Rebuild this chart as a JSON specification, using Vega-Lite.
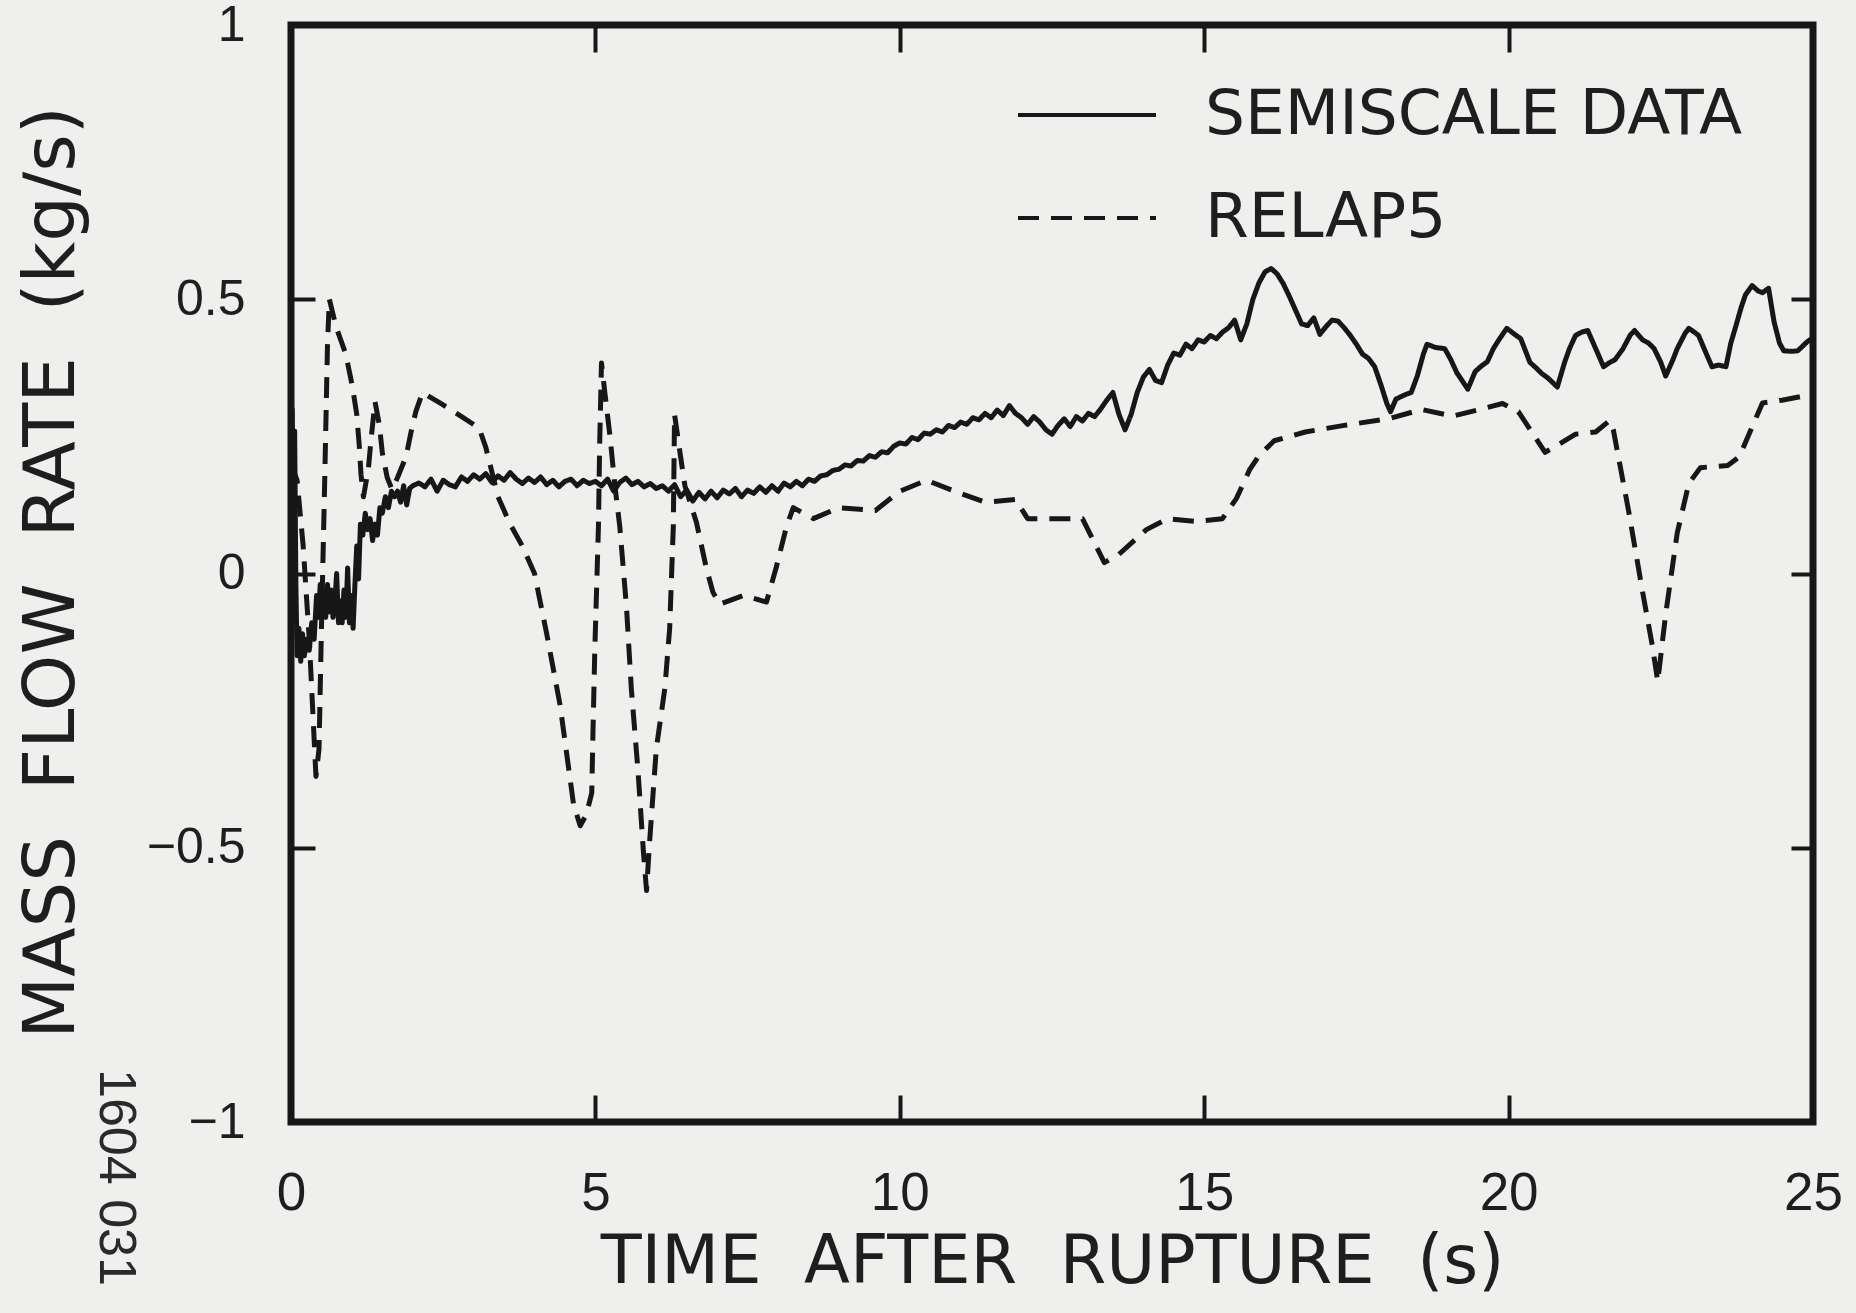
{
  "$schema": "https://vega.github.io/schema/vega-lite/v6.json",
  "width": 1522,
  "height": 1097,
  "autosize": {"type": "none"},
  "padding": {"left": 291, "top": 25, "right": 43, "bottom": 191},
  "background": "#efefed",
  "title": {
    "text": "1604 031",
    "orient": "left",
    "anchor": "start",
    "angle": 90,
    "font": "Liberation Sans",
    "fontSize": 52,
    "fontWeight": "normal",
    "color": "#2a2a2a",
    "offset": -178,
    "dx": -226
  },
  "datasets": {
    "flow": [
      {"series": "SEMISCALE DATA", "t": 0.00, "v": 0.02},
      {"series": "SEMISCALE DATA", "t": 0.02, "v": 0.30},
      {"series": "SEMISCALE DATA", "t": 0.04, "v": 0.12},
      {"series": "SEMISCALE DATA", "t": 0.06, "v": 0.26},
      {"series": "SEMISCALE DATA", "t": 0.08, "v": -0.02},
      {"series": "SEMISCALE DATA", "t": 0.10, "v": -0.15},
      {"series": "SEMISCALE DATA", "t": 0.13, "v": -0.10},
      {"series": "SEMISCALE DATA", "t": 0.16, "v": -0.16},
      {"series": "SEMISCALE DATA", "t": 0.19, "v": -0.11},
      {"series": "SEMISCALE DATA", "t": 0.22, "v": -0.15},
      {"series": "SEMISCALE DATA", "t": 0.26, "v": -0.12},
      {"series": "SEMISCALE DATA", "t": 0.30, "v": -0.14},
      {"series": "SEMISCALE DATA", "t": 0.34, "v": -0.09},
      {"series": "SEMISCALE DATA", "t": 0.38, "v": -0.12},
      {"series": "SEMISCALE DATA", "t": 0.42, "v": -0.04},
      {"series": "SEMISCALE DATA", "t": 0.45, "v": -0.08},
      {"series": "SEMISCALE DATA", "t": 0.48, "v": -0.02},
      {"series": "SEMISCALE DATA", "t": 0.51, "v": -0.07},
      {"series": "SEMISCALE DATA", "t": 0.54, "v": -0.03},
      {"series": "SEMISCALE DATA", "t": 0.57, "v": -0.08},
      {"series": "SEMISCALE DATA", "t": 0.60, "v": -0.02},
      {"series": "SEMISCALE DATA", "t": 0.63, "v": -0.07},
      {"series": "SEMISCALE DATA", "t": 0.66, "v": -0.03},
      {"series": "SEMISCALE DATA", "t": 0.69, "v": -0.08},
      {"series": "SEMISCALE DATA", "t": 0.72, "v": -0.05},
      {"series": "SEMISCALE DATA", "t": 0.75, "v": 0.00},
      {"series": "SEMISCALE DATA", "t": 0.78, "v": -0.09},
      {"series": "SEMISCALE DATA", "t": 0.81, "v": -0.05},
      {"series": "SEMISCALE DATA", "t": 0.84, "v": -0.09},
      {"series": "SEMISCALE DATA", "t": 0.87, "v": -0.03},
      {"series": "SEMISCALE DATA", "t": 0.90, "v": -0.08},
      {"series": "SEMISCALE DATA", "t": 0.93, "v": 0.01},
      {"series": "SEMISCALE DATA", "t": 0.96, "v": -0.09},
      {"series": "SEMISCALE DATA", "t": 0.99, "v": -0.04},
      {"series": "SEMISCALE DATA", "t": 1.02, "v": -0.10},
      {"series": "SEMISCALE DATA", "t": 1.05, "v": -0.02},
      {"series": "SEMISCALE DATA", "t": 1.08, "v": 0.05},
      {"series": "SEMISCALE DATA", "t": 1.11, "v": -0.01},
      {"series": "SEMISCALE DATA", "t": 1.14, "v": 0.09},
      {"series": "SEMISCALE DATA", "t": 1.18, "v": 0.07},
      {"series": "SEMISCALE DATA", "t": 1.22, "v": 0.11},
      {"series": "SEMISCALE DATA", "t": 1.26, "v": 0.08},
      {"series": "SEMISCALE DATA", "t": 1.30, "v": 0.10},
      {"series": "SEMISCALE DATA", "t": 1.34, "v": 0.06},
      {"series": "SEMISCALE DATA", "t": 1.38, "v": 0.09},
      {"series": "SEMISCALE DATA", "t": 1.42, "v": 0.07},
      {"series": "SEMISCALE DATA", "t": 1.46, "v": 0.12},
      {"series": "SEMISCALE DATA", "t": 1.50, "v": 0.11},
      {"series": "SEMISCALE DATA", "t": 1.55, "v": 0.14},
      {"series": "SEMISCALE DATA", "t": 1.60, "v": 0.12},
      {"series": "SEMISCALE DATA", "t": 1.65, "v": 0.15},
      {"series": "SEMISCALE DATA", "t": 1.70, "v": 0.14},
      {"series": "SEMISCALE DATA", "t": 1.75, "v": 0.15},
      {"series": "SEMISCALE DATA", "t": 1.80, "v": 0.13},
      {"series": "SEMISCALE DATA", "t": 1.85, "v": 0.16},
      {"series": "SEMISCALE DATA", "t": 1.90, "v": 0.125},
      {"series": "SEMISCALE DATA", "t": 1.95, "v": 0.155},
      {"series": "SEMISCALE DATA", "t": 2.00, "v": 0.16},
      {"series": "SEMISCALE DATA", "t": 2.1, "v": 0.165},
      {"series": "SEMISCALE DATA", "t": 2.2, "v": 0.158},
      {"series": "SEMISCALE DATA", "t": 2.3, "v": 0.172},
      {"series": "SEMISCALE DATA", "t": 2.4, "v": 0.150},
      {"series": "SEMISCALE DATA", "t": 2.5, "v": 0.170},
      {"series": "SEMISCALE DATA", "t": 2.6, "v": 0.162},
      {"series": "SEMISCALE DATA", "t": 2.7, "v": 0.158},
      {"series": "SEMISCALE DATA", "t": 2.8, "v": 0.176},
      {"series": "SEMISCALE DATA", "t": 2.9, "v": 0.168},
      {"series": "SEMISCALE DATA", "t": 3.0, "v": 0.180},
      {"series": "SEMISCALE DATA", "t": 3.1, "v": 0.172},
      {"series": "SEMISCALE DATA", "t": 3.2, "v": 0.182},
      {"series": "SEMISCALE DATA", "t": 3.3, "v": 0.166},
      {"series": "SEMISCALE DATA", "t": 3.4, "v": 0.178},
      {"series": "SEMISCALE DATA", "t": 3.5, "v": 0.170},
      {"series": "SEMISCALE DATA", "t": 3.6, "v": 0.184},
      {"series": "SEMISCALE DATA", "t": 3.7, "v": 0.172},
      {"series": "SEMISCALE DATA", "t": 3.8, "v": 0.164},
      {"series": "SEMISCALE DATA", "t": 3.9, "v": 0.174},
      {"series": "SEMISCALE DATA", "t": 4.0, "v": 0.166},
      {"series": "SEMISCALE DATA", "t": 4.1, "v": 0.176},
      {"series": "SEMISCALE DATA", "t": 4.2, "v": 0.162},
      {"series": "SEMISCALE DATA", "t": 4.3, "v": 0.170},
      {"series": "SEMISCALE DATA", "t": 4.4, "v": 0.158},
      {"series": "SEMISCALE DATA", "t": 4.5, "v": 0.168},
      {"series": "SEMISCALE DATA", "t": 4.6, "v": 0.172},
      {"series": "SEMISCALE DATA", "t": 4.7, "v": 0.160},
      {"series": "SEMISCALE DATA", "t": 4.8, "v": 0.170},
      {"series": "SEMISCALE DATA", "t": 4.9, "v": 0.164},
      {"series": "SEMISCALE DATA", "t": 5.0, "v": 0.168},
      {"series": "SEMISCALE DATA", "t": 5.1, "v": 0.160},
      {"series": "SEMISCALE DATA", "t": 5.2, "v": 0.172},
      {"series": "SEMISCALE DATA", "t": 5.3, "v": 0.150},
      {"series": "SEMISCALE DATA", "t": 5.4, "v": 0.166},
      {"series": "SEMISCALE DATA", "t": 5.5, "v": 0.174},
      {"series": "SEMISCALE DATA", "t": 5.6, "v": 0.162},
      {"series": "SEMISCALE DATA", "t": 5.7, "v": 0.168},
      {"series": "SEMISCALE DATA", "t": 5.8, "v": 0.158},
      {"series": "SEMISCALE DATA", "t": 5.9, "v": 0.164},
      {"series": "SEMISCALE DATA", "t": 6.0, "v": 0.155},
      {"series": "SEMISCALE DATA", "t": 6.1, "v": 0.160},
      {"series": "SEMISCALE DATA", "t": 6.2, "v": 0.150},
      {"series": "SEMISCALE DATA", "t": 6.3, "v": 0.162},
      {"series": "SEMISCALE DATA", "t": 6.4, "v": 0.140},
      {"series": "SEMISCALE DATA", "t": 6.5, "v": 0.152},
      {"series": "SEMISCALE DATA", "t": 6.6, "v": 0.132},
      {"series": "SEMISCALE DATA", "t": 6.7, "v": 0.148},
      {"series": "SEMISCALE DATA", "t": 6.8, "v": 0.136},
      {"series": "SEMISCALE DATA", "t": 6.9, "v": 0.150},
      {"series": "SEMISCALE DATA", "t": 7.0, "v": 0.138},
      {"series": "SEMISCALE DATA", "t": 7.1, "v": 0.152},
      {"series": "SEMISCALE DATA", "t": 7.2, "v": 0.145},
      {"series": "SEMISCALE DATA", "t": 7.3, "v": 0.155},
      {"series": "SEMISCALE DATA", "t": 7.4, "v": 0.140},
      {"series": "SEMISCALE DATA", "t": 7.5, "v": 0.152},
      {"series": "SEMISCALE DATA", "t": 7.6, "v": 0.146},
      {"series": "SEMISCALE DATA", "t": 7.7, "v": 0.158},
      {"series": "SEMISCALE DATA", "t": 7.8, "v": 0.148},
      {"series": "SEMISCALE DATA", "t": 7.9, "v": 0.160},
      {"series": "SEMISCALE DATA", "t": 8.0, "v": 0.150},
      {"series": "SEMISCALE DATA", "t": 8.1, "v": 0.165},
      {"series": "SEMISCALE DATA", "t": 8.2, "v": 0.158},
      {"series": "SEMISCALE DATA", "t": 8.3, "v": 0.168},
      {"series": "SEMISCALE DATA", "t": 8.4, "v": 0.160},
      {"series": "SEMISCALE DATA", "t": 8.5, "v": 0.172},
      {"series": "SEMISCALE DATA", "t": 8.6, "v": 0.168},
      {"series": "SEMISCALE DATA", "t": 8.7, "v": 0.178},
      {"series": "SEMISCALE DATA", "t": 8.8, "v": 0.180},
      {"series": "SEMISCALE DATA", "t": 8.9, "v": 0.188},
      {"series": "SEMISCALE DATA", "t": 9.0, "v": 0.190},
      {"series": "SEMISCALE DATA", "t": 9.1, "v": 0.198},
      {"series": "SEMISCALE DATA", "t": 9.2, "v": 0.196},
      {"series": "SEMISCALE DATA", "t": 9.3, "v": 0.206},
      {"series": "SEMISCALE DATA", "t": 9.4, "v": 0.205},
      {"series": "SEMISCALE DATA", "t": 9.5, "v": 0.215},
      {"series": "SEMISCALE DATA", "t": 9.6, "v": 0.212},
      {"series": "SEMISCALE DATA", "t": 9.7, "v": 0.222},
      {"series": "SEMISCALE DATA", "t": 9.8, "v": 0.220},
      {"series": "SEMISCALE DATA", "t": 9.9, "v": 0.232},
      {"series": "SEMISCALE DATA", "t": 10.0, "v": 0.238},
      {"series": "SEMISCALE DATA", "t": 10.1, "v": 0.236},
      {"series": "SEMISCALE DATA", "t": 10.2, "v": 0.248},
      {"series": "SEMISCALE DATA", "t": 10.3, "v": 0.244},
      {"series": "SEMISCALE DATA", "t": 10.4, "v": 0.256},
      {"series": "SEMISCALE DATA", "t": 10.5, "v": 0.254},
      {"series": "SEMISCALE DATA", "t": 10.6, "v": 0.262},
      {"series": "SEMISCALE DATA", "t": 10.7, "v": 0.258},
      {"series": "SEMISCALE DATA", "t": 10.8, "v": 0.270},
      {"series": "SEMISCALE DATA", "t": 10.9, "v": 0.266},
      {"series": "SEMISCALE DATA", "t": 11.0, "v": 0.276},
      {"series": "SEMISCALE DATA", "t": 11.1, "v": 0.272},
      {"series": "SEMISCALE DATA", "t": 11.2, "v": 0.284},
      {"series": "SEMISCALE DATA", "t": 11.3, "v": 0.280},
      {"series": "SEMISCALE DATA", "t": 11.4, "v": 0.292},
      {"series": "SEMISCALE DATA", "t": 11.5, "v": 0.284},
      {"series": "SEMISCALE DATA", "t": 11.6, "v": 0.298},
      {"series": "SEMISCALE DATA", "t": 11.7, "v": 0.288},
      {"series": "SEMISCALE DATA", "t": 11.8, "v": 0.306},
      {"series": "SEMISCALE DATA", "t": 11.9, "v": 0.292},
      {"series": "SEMISCALE DATA", "t": 12.0, "v": 0.284},
      {"series": "SEMISCALE DATA", "t": 12.1, "v": 0.272},
      {"series": "SEMISCALE DATA", "t": 12.2, "v": 0.286},
      {"series": "SEMISCALE DATA", "t": 12.3, "v": 0.276},
      {"series": "SEMISCALE DATA", "t": 12.4, "v": 0.262},
      {"series": "SEMISCALE DATA", "t": 12.5, "v": 0.254},
      {"series": "SEMISCALE DATA", "t": 12.6, "v": 0.270},
      {"series": "SEMISCALE DATA", "t": 12.7, "v": 0.282},
      {"series": "SEMISCALE DATA", "t": 12.8, "v": 0.268},
      {"series": "SEMISCALE DATA", "t": 12.9, "v": 0.286},
      {"series": "SEMISCALE DATA", "t": 13.0, "v": 0.278},
      {"series": "SEMISCALE DATA", "t": 13.1, "v": 0.292},
      {"series": "SEMISCALE DATA", "t": 13.2, "v": 0.286},
      {"series": "SEMISCALE DATA", "t": 13.3, "v": 0.300},
      {"series": "SEMISCALE DATA", "t": 13.4, "v": 0.316},
      {"series": "SEMISCALE DATA", "t": 13.5, "v": 0.330},
      {"series": "SEMISCALE DATA", "t": 13.6, "v": 0.290},
      {"series": "SEMISCALE DATA", "t": 13.7, "v": 0.262},
      {"series": "SEMISCALE DATA", "t": 13.8, "v": 0.290},
      {"series": "SEMISCALE DATA", "t": 13.9, "v": 0.330},
      {"series": "SEMISCALE DATA", "t": 14.0, "v": 0.358},
      {"series": "SEMISCALE DATA", "t": 14.1, "v": 0.372},
      {"series": "SEMISCALE DATA", "t": 14.2, "v": 0.352},
      {"series": "SEMISCALE DATA", "t": 14.3, "v": 0.348},
      {"series": "SEMISCALE DATA", "t": 14.4, "v": 0.380},
      {"series": "SEMISCALE DATA", "t": 14.5, "v": 0.402},
      {"series": "SEMISCALE DATA", "t": 14.6, "v": 0.398},
      {"series": "SEMISCALE DATA", "t": 14.7, "v": 0.418},
      {"series": "SEMISCALE DATA", "t": 14.8, "v": 0.410},
      {"series": "SEMISCALE DATA", "t": 14.9, "v": 0.426},
      {"series": "SEMISCALE DATA", "t": 15.0, "v": 0.422},
      {"series": "SEMISCALE DATA", "t": 15.1, "v": 0.434},
      {"series": "SEMISCALE DATA", "t": 15.2, "v": 0.428},
      {"series": "SEMISCALE DATA", "t": 15.3, "v": 0.440},
      {"series": "SEMISCALE DATA", "t": 15.4, "v": 0.448},
      {"series": "SEMISCALE DATA", "t": 15.5, "v": 0.462},
      {"series": "SEMISCALE DATA", "t": 15.6, "v": 0.426},
      {"series": "SEMISCALE DATA", "t": 15.7, "v": 0.455},
      {"series": "SEMISCALE DATA", "t": 15.8, "v": 0.500},
      {"series": "SEMISCALE DATA", "t": 15.9, "v": 0.530},
      {"series": "SEMISCALE DATA", "t": 16.0, "v": 0.550},
      {"series": "SEMISCALE DATA", "t": 16.1, "v": 0.556},
      {"series": "SEMISCALE DATA", "t": 16.2, "v": 0.546},
      {"series": "SEMISCALE DATA", "t": 16.3, "v": 0.528},
      {"series": "SEMISCALE DATA", "t": 16.4, "v": 0.505},
      {"series": "SEMISCALE DATA", "t": 16.5, "v": 0.480},
      {"series": "SEMISCALE DATA", "t": 16.6, "v": 0.455},
      {"series": "SEMISCALE DATA", "t": 16.7, "v": 0.452},
      {"series": "SEMISCALE DATA", "t": 16.8, "v": 0.466},
      {"series": "SEMISCALE DATA", "t": 16.9, "v": 0.436},
      {"series": "SEMISCALE DATA", "t": 17.0, "v": 0.450},
      {"series": "SEMISCALE DATA", "t": 17.1, "v": 0.462},
      {"series": "SEMISCALE DATA", "t": 17.2, "v": 0.460},
      {"series": "SEMISCALE DATA", "t": 17.3, "v": 0.448},
      {"series": "SEMISCALE DATA", "t": 17.4, "v": 0.434},
      {"series": "SEMISCALE DATA", "t": 17.5, "v": 0.418},
      {"series": "SEMISCALE DATA", "t": 17.6, "v": 0.400},
      {"series": "SEMISCALE DATA", "t": 17.7, "v": 0.392},
      {"series": "SEMISCALE DATA", "t": 17.8, "v": 0.377},
      {"series": "SEMISCALE DATA", "t": 17.9, "v": 0.345},
      {"series": "SEMISCALE DATA", "t": 18.0, "v": 0.310},
      {"series": "SEMISCALE DATA", "t": 18.06, "v": 0.295},
      {"series": "SEMISCALE DATA", "t": 18.15, "v": 0.318},
      {"series": "SEMISCALE DATA", "t": 18.3, "v": 0.326},
      {"series": "SEMISCALE DATA", "t": 18.4, "v": 0.330},
      {"series": "SEMISCALE DATA", "t": 18.5, "v": 0.360},
      {"series": "SEMISCALE DATA", "t": 18.6, "v": 0.400},
      {"series": "SEMISCALE DATA", "t": 18.66, "v": 0.418},
      {"series": "SEMISCALE DATA", "t": 18.8, "v": 0.412},
      {"series": "SEMISCALE DATA", "t": 18.95, "v": 0.410},
      {"series": "SEMISCALE DATA", "t": 19.05, "v": 0.390},
      {"series": "SEMISCALE DATA", "t": 19.15, "v": 0.366},
      {"series": "SEMISCALE DATA", "t": 19.33, "v": 0.336},
      {"series": "SEMISCALE DATA", "t": 19.45, "v": 0.368},
      {"series": "SEMISCALE DATA", "t": 19.55, "v": 0.378},
      {"series": "SEMISCALE DATA", "t": 19.65, "v": 0.386},
      {"series": "SEMISCALE DATA", "t": 19.75, "v": 0.410},
      {"series": "SEMISCALE DATA", "t": 19.84, "v": 0.426},
      {"series": "SEMISCALE DATA", "t": 19.97, "v": 0.447},
      {"series": "SEMISCALE DATA", "t": 20.1, "v": 0.436},
      {"series": "SEMISCALE DATA", "t": 20.2, "v": 0.428},
      {"series": "SEMISCALE DATA", "t": 20.35, "v": 0.385},
      {"series": "SEMISCALE DATA", "t": 20.45, "v": 0.375},
      {"series": "SEMISCALE DATA", "t": 20.54, "v": 0.365},
      {"series": "SEMISCALE DATA", "t": 20.65, "v": 0.356},
      {"series": "SEMISCALE DATA", "t": 20.8, "v": 0.340},
      {"series": "SEMISCALE DATA", "t": 20.92, "v": 0.385},
      {"series": "SEMISCALE DATA", "t": 21.0, "v": 0.410},
      {"series": "SEMISCALE DATA", "t": 21.1, "v": 0.434},
      {"series": "SEMISCALE DATA", "t": 21.2, "v": 0.440},
      {"series": "SEMISCALE DATA", "t": 21.3, "v": 0.443},
      {"series": "SEMISCALE DATA", "t": 21.45, "v": 0.405},
      {"series": "SEMISCALE DATA", "t": 21.56, "v": 0.377},
      {"series": "SEMISCALE DATA", "t": 21.65, "v": 0.384},
      {"series": "SEMISCALE DATA", "t": 21.75, "v": 0.390},
      {"series": "SEMISCALE DATA", "t": 21.88, "v": 0.410},
      {"series": "SEMISCALE DATA", "t": 22.0, "v": 0.435},
      {"series": "SEMISCALE DATA", "t": 22.07, "v": 0.443},
      {"series": "SEMISCALE DATA", "t": 22.2, "v": 0.426},
      {"series": "SEMISCALE DATA", "t": 22.3, "v": 0.420},
      {"series": "SEMISCALE DATA", "t": 22.39, "v": 0.410},
      {"series": "SEMISCALE DATA", "t": 22.5, "v": 0.385},
      {"series": "SEMISCALE DATA", "t": 22.58, "v": 0.360},
      {"series": "SEMISCALE DATA", "t": 22.7, "v": 0.390},
      {"series": "SEMISCALE DATA", "t": 22.77, "v": 0.410},
      {"series": "SEMISCALE DATA", "t": 22.9, "v": 0.438},
      {"series": "SEMISCALE DATA", "t": 22.96, "v": 0.447},
      {"series": "SEMISCALE DATA", "t": 23.05, "v": 0.440},
      {"series": "SEMISCALE DATA", "t": 23.12, "v": 0.434},
      {"series": "SEMISCALE DATA", "t": 23.25, "v": 0.400},
      {"series": "SEMISCALE DATA", "t": 23.34, "v": 0.377},
      {"series": "SEMISCALE DATA", "t": 23.45, "v": 0.380},
      {"series": "SEMISCALE DATA", "t": 23.57, "v": 0.377},
      {"series": "SEMISCALE DATA", "t": 23.65, "v": 0.420},
      {"series": "SEMISCALE DATA", "t": 23.73, "v": 0.450},
      {"series": "SEMISCALE DATA", "t": 23.82, "v": 0.485},
      {"series": "SEMISCALE DATA", "t": 23.89, "v": 0.508},
      {"series": "SEMISCALE DATA", "t": 24.0, "v": 0.525},
      {"series": "SEMISCALE DATA", "t": 24.1, "v": 0.515},
      {"series": "SEMISCALE DATA", "t": 24.17, "v": 0.512},
      {"series": "SEMISCALE DATA", "t": 24.27, "v": 0.520},
      {"series": "SEMISCALE DATA", "t": 24.36, "v": 0.459},
      {"series": "SEMISCALE DATA", "t": 24.45, "v": 0.420},
      {"series": "SEMISCALE DATA", "t": 24.52, "v": 0.406},
      {"series": "SEMISCALE DATA", "t": 24.65, "v": 0.405},
      {"series": "SEMISCALE DATA", "t": 24.75, "v": 0.406},
      {"series": "SEMISCALE DATA", "t": 24.9, "v": 0.422},
      {"series": "SEMISCALE DATA", "t": 25.0, "v": 0.430},
      {"series": "RELAP5", "t": 0.00, "v": 0.20},
      {"series": "RELAP5", "t": 0.10, "v": 0.17},
      {"series": "RELAP5", "t": 0.20, "v": 0.05},
      {"series": "RELAP5", "t": 0.30, "v": -0.12},
      {"series": "RELAP5", "t": 0.41, "v": -0.37},
      {"series": "RELAP5", "t": 0.46, "v": -0.32},
      {"series": "RELAP5", "t": 0.50, "v": -0.10},
      {"series": "RELAP5", "t": 0.55, "v": 0.15},
      {"series": "RELAP5", "t": 0.60, "v": 0.42},
      {"series": "RELAP5", "t": 0.63, "v": 0.50},
      {"series": "RELAP5", "t": 0.74, "v": 0.45},
      {"series": "RELAP5", "t": 0.90, "v": 0.40},
      {"series": "RELAP5", "t": 1.01, "v": 0.34},
      {"series": "RELAP5", "t": 1.08, "v": 0.29},
      {"series": "RELAP5", "t": 1.12, "v": 0.235},
      {"series": "RELAP5", "t": 1.15, "v": 0.18},
      {"series": "RELAP5", "t": 1.19, "v": 0.14},
      {"series": "RELAP5", "t": 1.27, "v": 0.19},
      {"series": "RELAP5", "t": 1.32, "v": 0.25},
      {"series": "RELAP5", "t": 1.38, "v": 0.313},
      {"series": "RELAP5", "t": 1.45, "v": 0.272},
      {"series": "RELAP5", "t": 1.50, "v": 0.22},
      {"series": "RELAP5", "t": 1.58, "v": 0.175},
      {"series": "RELAP5", "t": 1.66, "v": 0.153},
      {"series": "RELAP5", "t": 1.75, "v": 0.175},
      {"series": "RELAP5", "t": 1.89, "v": 0.213},
      {"series": "RELAP5", "t": 1.97, "v": 0.257},
      {"series": "RELAP5", "t": 2.05, "v": 0.295},
      {"series": "RELAP5", "t": 2.16, "v": 0.33},
      {"series": "RELAP5", "t": 2.46, "v": 0.31},
      {"series": "RELAP5", "t": 2.79, "v": 0.287},
      {"series": "RELAP5", "t": 3.09, "v": 0.265},
      {"series": "RELAP5", "t": 3.2, "v": 0.23},
      {"series": "RELAP5", "t": 3.4, "v": 0.14},
      {"series": "RELAP5", "t": 3.6, "v": 0.09},
      {"series": "RELAP5", "t": 3.8, "v": 0.05},
      {"series": "RELAP5", "t": 4.0, "v": 0.0},
      {"series": "RELAP5", "t": 4.2, "v": -0.11},
      {"series": "RELAP5", "t": 4.42, "v": -0.24},
      {"series": "RELAP5", "t": 4.64, "v": -0.42},
      {"series": "RELAP5", "t": 4.75, "v": -0.46},
      {"series": "RELAP5", "t": 4.85, "v": -0.44},
      {"series": "RELAP5", "t": 4.94, "v": -0.40},
      {"series": "RELAP5", "t": 4.96, "v": -0.29},
      {"series": "RELAP5", "t": 4.99, "v": -0.14},
      {"series": "RELAP5", "t": 5.05, "v": 0.086},
      {"series": "RELAP5", "t": 5.07, "v": 0.235},
      {"series": "RELAP5", "t": 5.10, "v": 0.384},
      {"series": "RELAP5", "t": 5.16, "v": 0.325},
      {"series": "RELAP5", "t": 5.24, "v": 0.25},
      {"series": "RELAP5", "t": 5.32, "v": 0.16},
      {"series": "RELAP5", "t": 5.40, "v": 0.086},
      {"series": "RELAP5", "t": 5.51, "v": -0.06},
      {"series": "RELAP5", "t": 5.59, "v": -0.21},
      {"series": "RELAP5", "t": 5.70, "v": -0.36},
      {"series": "RELAP5", "t": 5.79, "v": -0.51},
      {"series": "RELAP5", "t": 5.84, "v": -0.578},
      {"series": "RELAP5", "t": 5.89, "v": -0.49},
      {"series": "RELAP5", "t": 6.00, "v": -0.32},
      {"series": "RELAP5", "t": 6.14, "v": -0.21},
      {"series": "RELAP5", "t": 6.22, "v": -0.10},
      {"series": "RELAP5", "t": 6.28, "v": 0.086},
      {"series": "RELAP5", "t": 6.30, "v": 0.29},
      {"series": "RELAP5", "t": 6.39, "v": 0.22},
      {"series": "RELAP5", "t": 6.47, "v": 0.16},
      {"series": "RELAP5", "t": 6.66, "v": 0.093},
      {"series": "RELAP5", "t": 6.82, "v": 0.011},
      {"series": "RELAP5", "t": 6.93, "v": -0.034},
      {"series": "RELAP5", "t": 7.04, "v": -0.056},
      {"series": "RELAP5", "t": 7.43, "v": -0.04},
      {"series": "RELAP5", "t": 7.81, "v": -0.052},
      {"series": "RELAP5", "t": 7.97, "v": 0.011},
      {"series": "RELAP5", "t": 8.14, "v": 0.086},
      {"series": "RELAP5", "t": 8.25, "v": 0.12},
      {"series": "RELAP5", "t": 8.58, "v": 0.10},
      {"series": "RELAP5", "t": 9.0, "v": 0.12},
      {"series": "RELAP5", "t": 9.6, "v": 0.115},
      {"series": "RELAP5", "t": 10.0, "v": 0.15},
      {"series": "RELAP5", "t": 10.44, "v": 0.17},
      {"series": "RELAP5", "t": 10.9, "v": 0.15},
      {"series": "RELAP5", "t": 11.4, "v": 0.13},
      {"series": "RELAP5", "t": 11.9, "v": 0.135},
      {"series": "RELAP5", "t": 12.1, "v": 0.10},
      {"series": "RELAP5", "t": 12.65, "v": 0.10},
      {"series": "RELAP5", "t": 13.0, "v": 0.10},
      {"series": "RELAP5", "t": 13.36, "v": 0.02},
      {"series": "RELAP5", "t": 13.6, "v": 0.035},
      {"series": "RELAP5", "t": 14.05, "v": 0.08},
      {"series": "RELAP5", "t": 14.4, "v": 0.10},
      {"series": "RELAP5", "t": 14.87, "v": 0.095},
      {"series": "RELAP5", "t": 15.3, "v": 0.10},
      {"series": "RELAP5", "t": 15.53, "v": 0.137},
      {"series": "RELAP5", "t": 15.75, "v": 0.19},
      {"series": "RELAP5", "t": 15.9, "v": 0.215},
      {"series": "RELAP5", "t": 16.15, "v": 0.242},
      {"series": "RELAP5", "t": 16.66, "v": 0.258},
      {"series": "RELAP5", "t": 17.3, "v": 0.27},
      {"series": "RELAP5", "t": 18.06, "v": 0.283},
      {"series": "RELAP5", "t": 18.57, "v": 0.299},
      {"series": "RELAP5", "t": 19.08, "v": 0.287},
      {"series": "RELAP5", "t": 19.52, "v": 0.299},
      {"series": "RELAP5", "t": 19.9, "v": 0.31},
      {"series": "RELAP5", "t": 20.16, "v": 0.295},
      {"series": "RELAP5", "t": 20.6, "v": 0.221},
      {"series": "RELAP5", "t": 20.8, "v": 0.234},
      {"series": "RELAP5", "t": 21.1, "v": 0.254},
      {"series": "RELAP5", "t": 21.43, "v": 0.258},
      {"series": "RELAP5", "t": 21.66, "v": 0.279},
      {"series": "RELAP5", "t": 21.72, "v": 0.262},
      {"series": "RELAP5", "t": 21.97, "v": 0.115},
      {"series": "RELAP5", "t": 22.2, "v": -0.033},
      {"series": "RELAP5", "t": 22.36, "v": -0.131},
      {"series": "RELAP5", "t": 22.45, "v": -0.197},
      {"series": "RELAP5", "t": 22.58, "v": -0.074},
      {"series": "RELAP5", "t": 22.77, "v": 0.074},
      {"series": "RELAP5", "t": 22.96, "v": 0.164},
      {"series": "RELAP5", "t": 23.15, "v": 0.193},
      {"series": "RELAP5", "t": 23.6, "v": 0.197},
      {"series": "RELAP5", "t": 23.79, "v": 0.213},
      {"series": "RELAP5", "t": 23.98, "v": 0.262},
      {"series": "RELAP5", "t": 24.17, "v": 0.311},
      {"series": "RELAP5", "t": 24.49, "v": 0.316},
      {"series": "RELAP5", "t": 24.87, "v": 0.324},
      {"series": "RELAP5", "t": 25.0, "v": 0.325}
    ]
  },
  "data": {"name": "flow"},
  "layer": [
    {
      "mark": {"type": "line", "color": "#171717", "strokeWidth": 5, "strokeJoin": "round", "strokeCap": "butt", "interpolate": "linear"},
      "encoding": {
        "x": {
          "field": "t", "type": "quantitative",
          "scale": {"domain": [0, 25], "nice": false, "zero": false},
          "axis": {
            "orient": "bottom",
            "values": [0, 5, 10, 15, 20, 25],
            "format": "~g",
            "domain": false,
            "grid": false,
            "tickSize": -27,
            "tickWidth": 4,
            "tickColor": "#171717",
            "labelFont": "Liberation Sans",
            "labelFontSize": 53,
            "labelColor": "#1e1e1e",
            "labelPadding": 72,
            "labelFlush": false,
            "title": "TIME\u00a0 AFTER\u00a0 RUPTURE\u00a0 (s)",
            "titleFont": "DejaVu Sans",
            "titleFontSize": 67,
            "titleFontWeight": "normal",
            "titleColor": "#1e1e1e",
            "titleY": 140,
            "titleBaseline": "middle"
          }
        },
        "y": {
          "field": "v", "type": "quantitative",
          "scale": {"domain": [-1, 1], "nice": false, "zero": false},
          "axis": {
            "orient": "left",
            "values": [-1, -0.5, 0, 0.5, 1],
            "format": "~g",
            "domain": false,
            "grid": false,
            "tickSize": -24,
            "tickWidth": 4,
            "tickColor": "#171717",
            "labelFont": "Liberation Sans",
            "labelFontSize": 50,
            "labelColor": "#1e1e1e",
            "labelPadding": 70,
            "labelFlush": false,
            "title": "MASS\u00a0 FLOW\u00a0 RATE\u00a0 (kg/s)",
            "titleFont": "DejaVu Sans",
            "titleFontSize": 72,
            "titleFontWeight": "normal",
            "titleColor": "#1e1e1e",
            "titleAngle": -90,
            "titleX": -240,
            "titleY": 547,
            "titleAlign": "center",
            "titleBaseline": "middle"
          }
        },
        "strokeDash": {
          "field": "series", "type": "nominal",
          "scale": {"domain": ["SEMISCALE DATA", "RELAP5"], "range": [[1, 0], [21, 12]]},
          "legend": {
            "orient": "none",
            "legendX": 725,
            "legendY": 19,
            "title": null,
            "padding": 0,
            "symbolType": "stroke",
            "symbolSize": 19044,
            "symbolStrokeWidth": 4,
            "symbolStrokeColor": "#171717",
            "labelFont": "DejaVu Sans",
            "labelFontSize": 63,
            "labelColor": "#1e1e1e",
            "labelOffset": 47,
            "labelLimit": 0,
            "rowPadding": -45
          }
        }
      }
    },
    {
      "mark": {"type": "line", "opacity": 0},
      "encoding": {
        "x": {
          "field": "t", "type": "quantitative",
          "axis": {
            "orient": "top",
            "values": [5, 10, 15, 20],
            "labels": false,
            "domain": false,
            "grid": false,
            "tickSize": -27,
            "tickWidth": 4,
            "tickColor": "#171717",
            "title": null
          }
        },
        "y": {
          "field": "v", "type": "quantitative",
          "axis": {
            "orient": "right",
            "values": [-0.5, 0, 0.5],
            "labels": false,
            "domain": false,
            "grid": false,
            "tickSize": -22,
            "tickWidth": 4,
            "tickColor": "#171717",
            "title": null
          }
        },
        "detail": {"field": "series", "type": "nominal"}
      }
    }
  ],
  "resolve": {"axis": {"x": "independent", "y": "independent"}},
  "config": {
    "view": {"stroke": "#171717", "strokeWidth": 7},
    "axis": {"labelOverlap": false}
  }
}
